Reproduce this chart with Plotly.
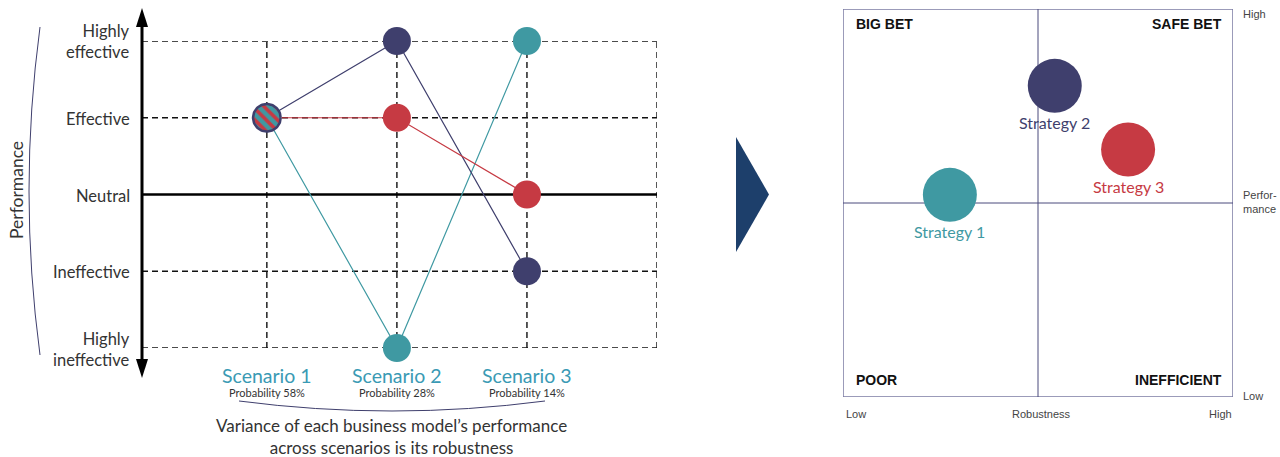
import numpy as np
import plotly.graph_objects as go

# ---- data -------------------------------------------------------------
scenarios = ["Scenario 1", "Scenario 2", "Scenario 3"]
scenario_x = [1, 2, 3]
probabilities = [58, 28, 14]

level_values = [-2, -1, 0, 1, 2]
level_labels = ["Highly<br>ineffective", "Ineffective", "Neutral",
                "Effective", "Highly<br>effective"]

strategies = ["Strategy 1", "Strategy 2", "Strategy 3"]
strategy_colors = ["#3f99a2", "#3f3f6d", "#c63a43"]
perf_strategy1 = [1, -2, 2]
perf_strategy2 = [1, 2, -1]
perf_strategy3 = [1, 1, 0]
scenario_perf = [perf_strategy1, perf_strategy2, perf_strategy3]

# position on the robustness / performance matrix (0..1 scales)
robustness = [0.274, 0.543, 0.731]
overall_perf = [0.521, 0.802, 0.638]

quadrants = ["BIG BET", "SAFE BET", "POOR", "INEFFICIENT"]

# ---- layout helpers -----------------------------------------------------
W, H = 1280, 457
def fx(px):
    return px / W
def fy(py):
    return 1 - py / H

TEXT = "#333333"
NAVY = "#3f3f6d"
TEAL_TXT = "#3a9ab4"
FONT = "Lato"
SANS = "Liberation Sans"

LX0, LX1, LY0, LY1 = 142, 657, 41, 348      # left grid area (pixels)
X_RANGE = [0.04, 4]
Y_RANGE = [-2, 2]
RX0, RX1, RY0, RY1 = 843, 1233, 9, 397      # right matrix box (pixels)

fig = go.Figure()

shapes = []
dash = "6px,4px"
grid_line = dict(color="#111111", width=1.4, dash=dash)
# dashed grid of scenarios x performance levels
for v in level_values:
    if v == 0:
        continue
    shapes.append(dict(type="line", xref="x", yref="y", x0=X_RANGE[0], x1=X_RANGE[1],
                       y0=v, y1=v, line=grid_line, layer="below"))
for sx in scenario_x + [X_RANGE[1]]:
    shapes.append(dict(type="line", xref="x", yref="y", x0=sx, x1=sx,
                       y0=Y_RANGE[0], y1=Y_RANGE[1], line=grid_line, layer="below"))
# neutral baseline
shapes.append(dict(type="line", xref="x", yref="y", x0=X_RANGE[0], x1=X_RANGE[1],
                   y0=0, y1=0, line=dict(color="black", width=2.5), layer="below"))

# connecting lines + scenario markers
for name, col, perf in zip(strategies, strategy_colors, scenario_perf):
    fig.add_trace(go.Scatter(
        x=scenario_x, y=perf, mode="lines+markers", name=name,
        line=dict(color=col, width=1.2),
        marker=dict(size=28, color=col),
        cliponaxis=False, showlegend=False, hoverinfo="skip"))

# shared starting point in scenario 1: striped circle
kx = (LX1 - LX0) / (X_RANGE[1] - X_RANGE[0])
ky = (LY1 - LY0) / (Y_RANGE[1] - Y_RANGE[0])
r = 13.8
t = np.linspace(0, 2 * np.pi, 80)
fig.add_trace(go.Scatter(
    x=scenario_x[0] + r * np.cos(t) / kx,
    y=perf_strategy1[0] + r * np.sin(t) / ky,
    mode="lines", fill="toself", fillcolor=strategy_colors[0],
    fillpattern=dict(shape="\\", fgcolor=strategy_colors[2],
                     bgcolor=strategy_colors[0], size=8, solidity=0.45,
                     fillmode="replace"),
    line=dict(color=NAVY, width=2.5),
    showlegend=False, hoverinfo="skip"))

# strategy bubbles on the matrix
for name, col, rx, ry in zip(strategies, strategy_colors, robustness, overall_perf):
    fig.add_trace(go.Scatter(
        x=[rx], y=[ry], xaxis="x2", yaxis="y2", mode="markers",
        marker=dict(size=54, color=col),
        cliponaxis=False, showlegend=False, hoverinfo="skip"))

# vertical performance axis with arrowheads
shapes.append(dict(type="line", xref="paper", yref="paper",
                   x0=fx(LX0), x1=fx(LX0), y0=fy(20), y1=fy(366),
                   line=dict(color="black", width=3)))
shapes.append(dict(type="path", xref="paper", yref="paper",
                   path=f"M {fx(LX0-6)},{fy(27)} L {fx(LX0)},{fy(8)} L {fx(LX0+6)},{fy(27)} Z",
                   fillcolor="black", line=dict(width=0)))
shapes.append(dict(type="path", xref="paper", yref="paper",
                   path=f"M {fx(LX0-6)},{fy(359)} L {fx(LX0)},{fy(378)} L {fx(LX0+6)},{fy(359)} Z",
                   fillcolor="black", line=dict(width=0)))
# bracket curves
shapes.append(dict(type="path", xref="paper", yref="paper",
                   path=f"M {fx(40)},{fy(27)} Q {fx(18)},{fy(191)} {fx(40)},{fy(355)}",
                   line=dict(color=NAVY, width=1)))
shapes.append(dict(type="path", xref="paper", yref="paper",
                   path=f"M {fx(239)},{fy(401)} Q {fx(392)},{fy(421)} {fx(545)},{fy(401)}",
                   line=dict(color=NAVY, width=1)))
# transition arrow between the panels
shapes.append(dict(type="path", xref="paper", yref="paper",
                   path=f"M {fx(736)},{fy(137)} L {fx(769)},{fy(194.5)} L {fx(736)},{fy(252)} Z",
                   fillcolor="#1d3f6b", line=dict(width=0)))
# matrix frame and quadrant dividers
shapes.append(dict(type="rect", xref="x2", yref="y2", x0=0, x1=1, y0=0, y1=1,
                   line=dict(color="#7b7ba3", width=1.5), layer="below"))
shapes.append(dict(type="line", xref="x2", yref="y2", x0=0.5, x1=0.5, y0=0, y1=1,
                   line=dict(color="#4b4b7d", width=1), layer="below"))
shapes.append(dict(type="line", xref="x2", yref="y2", x0=0, x1=1, y0=0.5, y1=0.5,
                   line=dict(color="#4b4b7d", width=1), layer="below"))

ann = []
def label(text, x, y, font, xref="paper", yref="paper", xanchor="center",
          yanchor="middle", **kw):
    ann.append(dict(text=text, x=x, y=y, xref=xref, yref=yref, xanchor=xanchor,
                    yanchor=yanchor, showarrow=False, font=font, **kw))

label("Performance", fx(17), fy(190), dict(family=FONT, size=17.5, color=TEXT),
      textangle=-90)
# performance level names
for v, lab in zip(level_values, level_labels):
    label(lab, fx(LX0 - 10), v, dict(family=FONT, size=16.5, color=TEXT),
          yref="y", xanchor="right", align="right", yshift=-1)
for sx, sc, p in zip(scenario_x, scenarios, probabilities):
    label(sc, sx, fy(375), dict(family=FONT, size=19.5, color=TEAL_TXT), xref="x")
    label(f"Probability {p}%", sx, fy(392), dict(family=FONT, size=11, color=TEXT),
          xref="x")
label("Variance of each business model\u2019s performance<br>across scenarios is its robustness",
      fx(391), fy(436), dict(family=FONT, size=17, color=TEXT))
# strategy names under the bubbles
for name, col, rx, ry in zip(strategies, strategy_colors, robustness, overall_perf):
    label(name, rx, ry, dict(family=FONT, size=16, color=col), xref="x2", yref="y2",
          yshift=-37)
# quadrant names
qpos = [(854, 24, "left"), (1224, 24, "right"), (854, 380, "left"), (1224, 380, "right")]
for q, (qx, qy, qa) in zip(quadrants, qpos):
    label(f"<b>{q}</b>", fx(qx), fy(qy), dict(family=SANS, size=14, color="#111111"),
          xanchor=qa)
# matrix axis captions
small = dict(family=SANS, size=11, color="#444444")
label("High", fx(1241), fy(14), small, xanchor="left")
label("Perfor-<br>mance", fx(1241), fy(202), small, xanchor="left", align="left")
label("Low", fx(1241), fy(396), small, xanchor="left")
label("Low", fx(844), fy(414), small, xanchor="left")
label("Robustness", fx(1041), fy(414), small)
label("High", fx(1234), fy(414), small, xanchor="right")

fig.update_layout(
    width=W, height=H, autosize=False,
    margin=dict(l=0, r=0, t=0, b=0),
    paper_bgcolor="white", plot_bgcolor="rgba(0,0,0,0)",
    showlegend=False,
    xaxis=dict(domain=[fx(LX0), fx(LX1)], range=X_RANGE, fixedrange=True,
               visible=False),
    yaxis=dict(domain=[fy(LY1), fy(LY0)], range=Y_RANGE, fixedrange=True,
               visible=False),
    xaxis2=dict(domain=[fx(RX0), fx(RX1)], range=[0, 1], visible=False,
                anchor="y2", fixedrange=True),
    yaxis2=dict(domain=[fy(RY1), fy(RY0)], range=[0, 1], visible=False,
                anchor="x2", fixedrange=True),
    shapes=shapes, annotations=ann,
)

fig.write_html("out.html")
